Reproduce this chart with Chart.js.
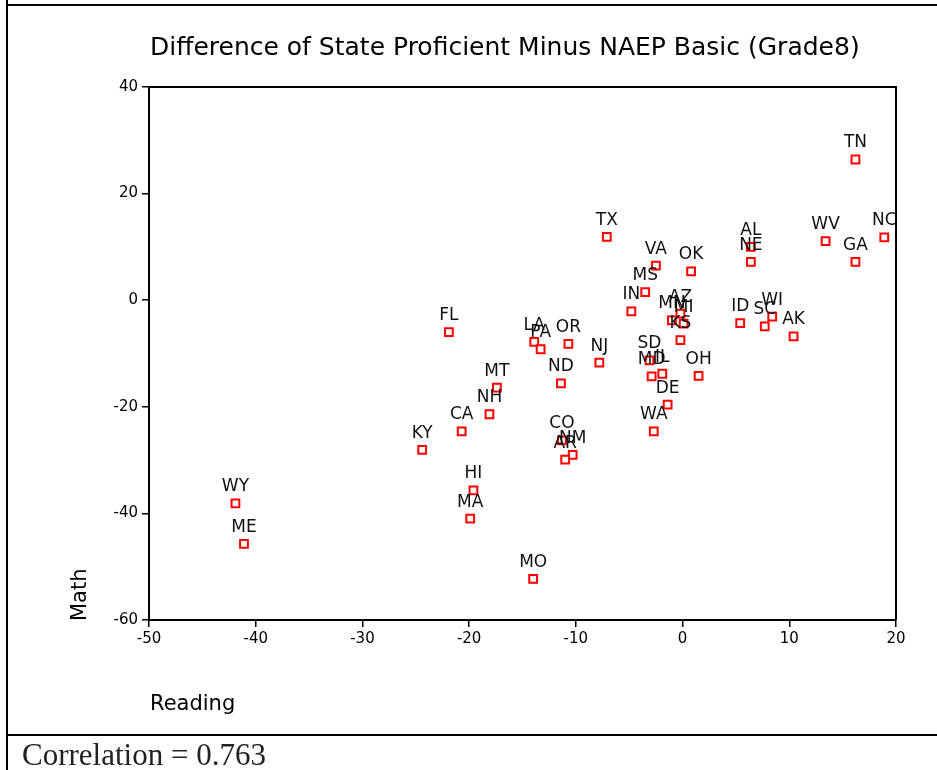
<!DOCTYPE html>
<html>
<head>
<meta charset="utf-8">
<script src="https://cdn.jsdelivr.net/npm/chart.js@4"></script>
<style>
  body { margin: 0; background: #fff; }
  #wrap { position: relative; width: 937px; height: 770px; }
</style>
</head>
<body>
<div id="wrap"><canvas id="chart" width="937" height="770"></canvas></div>
<script>
// State codes with the reading / math differences (state proficient minus NAEP basic)
const states = ['TX', 'VA', 'OK', 'MS', 'IN', 'FL', 'LA', 'PA', 'OR', 'NJ', 'ND', 'MT', 'SD', 'MD', 'IL',
    'DE', 'OH', 'KS', 'MN', 'AZ', 'MI', 'TN', 'WV', 'NC', 'GA', 'AL', 'NE', 'ID', 'WI', 'SC', 'AK',
    'NH', 'CA', 'KY', 'WA', 'CO', 'NM', 'AR', 'HI', 'MA', 'WY', 'ME', 'MO'];
const reading = [-7.1, -2.5, 0.8, -3.5, -4.8, -21.9, -13.9, -13.3, -10.7, -7.8, -11.4, -17.4, -3.1, -2.9, -1.9,
    -1.4, 1.5, -0.2, -1.0, -0.2, 0.1, 16.2, 13.4, 18.9, 16.2, 6.4, 6.4, 5.4, 8.4, 7.7, 10.4,
    -18.1, -20.7, -24.4, -2.7, -11.3, -10.3, -11.0, -19.6, -19.9, -41.9, -41.1, -14.0];
const math = [11.9, 6.5, 5.4, 1.5, -2.1, -6.0, -7.8, -9.2, -8.2, -11.7, -15.6, -16.4, -11.3, -14.3, -13.8,
    -19.6, -14.2, -7.5, -3.8, -2.5, -4.4, 26.4, 11.1, 11.8, 7.2, 10.0, 7.2, -4.3, -3.1, -4.9, -6.8,
    -21.4, -24.6, -28.1, -24.6, -26.3, -29.0, -29.9, -35.7, -41.0, -38.1, -45.7, -52.3];
const xTicks = { min: -50, max: 20, step: 10 };
const yTicks = { min: -60, max: 40, step: 20 };

const points = states.map((s, i) => ({ x: reading[i], y: math[i] }));

// draws state codes above the markers, the plot frame and the page texts
const decorations = {
    id: 'decorations',
    afterDatasetsDraw(chart) {
        const ctx = chart.ctx;
        const meta = chart.getDatasetMeta(0);
        ctx.save();
        ctx.fillStyle = '#111';
        ctx.font = '17px "DejaVu Sans"';
        ctx.textAlign = 'center';
        ctx.textBaseline = 'alphabetic';
        meta.data.forEach((pt, i) => {
            ctx.fillText(states[i], pt.x, pt.y - 12);
        });
        ctx.restore();
    },
    afterDraw(chart) {
        const ctx = chart.ctx;
        const a = chart.chartArea;
        ctx.save();
        // top and right edges of the plot box
        ctx.strokeStyle = '#000';
        ctx.lineWidth = 2;
        ctx.beginPath();
        ctx.moveTo(a.left, a.top);
        ctx.lineTo(a.right, a.top);
        ctx.lineTo(a.right, a.bottom);
        ctx.stroke();

        // page frame
        ctx.lineWidth = 2;
        ctx.beginPath();
        ctx.moveTo(7, 0);
        ctx.lineTo(7, 770);
        ctx.moveTo(7, 5);
        ctx.lineTo(937, 5);
        ctx.moveTo(7, 735);
        ctx.lineTo(937, 735);
        ctx.stroke();

        ctx.fillStyle = '#000';
        ctx.textAlign = 'left';
        ctx.textBaseline = 'alphabetic';
        ctx.font = '25px "DejaVu Sans"';
        ctx.fillText('Difference of State Proficient Minus NAEP Basic (Grade8)', 150, 55);

        ctx.font = '21px "DejaVu Sans"';
        ctx.fillText('Reading', 150, 710);

        ctx.save();
        ctx.translate(86, 621);
        ctx.rotate(-Math.PI / 2);
        ctx.fillText('Math', 0, 0);
        ctx.restore();

        ctx.fillStyle = '#222';
        ctx.font = '31px "Liberation Serif"';
        ctx.fillText('Correlation = 0.763', 22, 765);
        ctx.restore();
    }
};

const tickFont = { family: 'DejaVu Sans', size: 15 };

new Chart(document.getElementById('chart'), {
    type: 'scatter',
    data: {
        datasets: [{
            data: points,
            pointStyle: 'rect',
            pointRadius: 5.5,
            pointHoverRadius: 5.5,
            pointBorderWidth: 2,
            borderColor: '#ff0000',
            backgroundColor: '#ffffff'
        }]
    },
    options: {
        responsive: false,
        animation: false,
        layout: { padding: { top: 87, right: 41, left: 0, bottom: 0 } },
        plugins: {
            legend: { display: false },
            tooltip: { enabled: false },
            title: { display: false }
        },
        scales: {
            x: {
                type: 'linear',
                min: xTicks.min,
                max: xTicks.max,
                ticks: { stepSize: xTicks.step, color: '#000', font: tickFont, padding: 3 },
                grid: { drawOnChartArea: false, drawTicks: true, tickLength: 7, color: '#000', lineWidth: 1.5 },
                border: { display: true, color: '#000', width: 2 },
                afterFit(s) { s.height = 150; }
            },
            y: {
                type: 'linear',
                min: yTicks.min,
                max: yTicks.max,
                ticks: { stepSize: yTicks.step, color: '#000', font: tickFont, padding: 4 },
                grid: { drawOnChartArea: false, drawTicks: true, tickLength: 7, color: '#000', lineWidth: 1.5 },
                border: { display: true, color: '#000', width: 2 },
                afterFit(s) { s.width = 149; }
            }
        }
    },
    plugins: [decorations]
});
</script>
</body>
</html>
